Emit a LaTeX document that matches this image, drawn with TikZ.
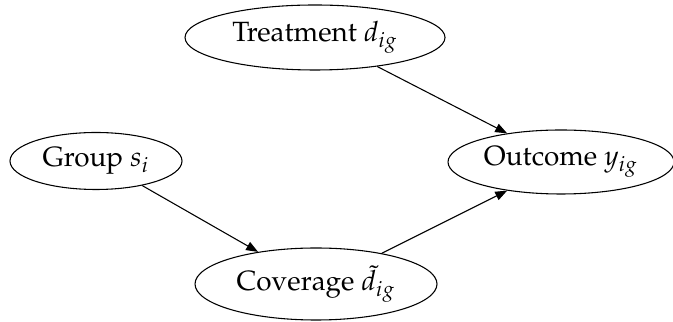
\documentclass[tikz,border=0pt]{standalone}
\usepackage[T1]{fontenc}
\usepackage{mathpazo}
\usetikzlibrary{shapes.geometric,arrows.meta}
\begin{document}
\begin{tikzpicture}[x=0.42pt,y=-0.42pt,
  var/.style={draw,ellipse,line width=0.45pt,inner sep=0pt,font=\fontsize{11.7}{14}\selectfont},
  arr/.style={line width=0.45pt,-{Triangle[length=5pt,width=3.8pt]}}]
\useasboundingbox (0,0) rectangle (673,322);
\node[var,minimum width=260*0.42pt,minimum height=65*0.42pt] (t) at (315,37.5) {Treatment $d_{ig}$};
\node[var,minimum width=172*0.42pt,minimum height=57*0.42pt] (g) at (96,161) {Group $s_i$};
\node[var,minimum width=226*0.42pt,minimum height=64*0.42pt] (o) at (561,162) {Outcome $y_{ig}$};
\node[var,minimum width=242*0.42pt,minimum height=72*0.42pt] (c) at (316,284) {Coverage $\tilde{d}_{ig}$};
\draw[arr] (t.-25) -- (o.152);
\draw[arr] (g.-28.5) -- (c.151.5);
\draw[arr] (c.25) -- (o.208.6);
\end{tikzpicture}
\end{document}
